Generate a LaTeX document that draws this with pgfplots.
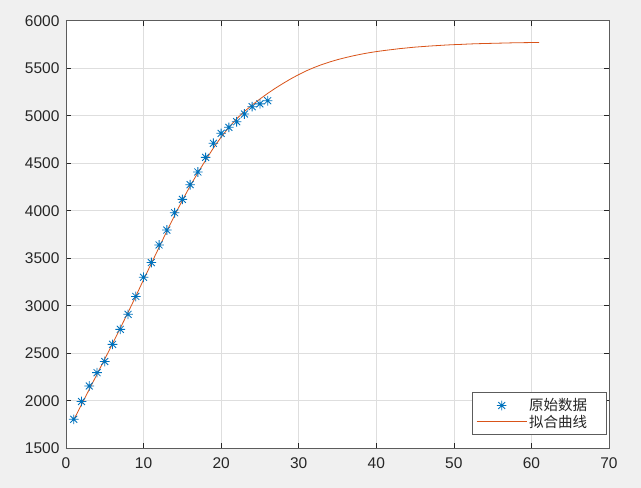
\documentclass[border=0pt]{standalone}
\usepackage{pgfplots}
\pgfplotsset{compat=1.18}
\usepackage{fontspec}
\setmainfont{Liberation Sans}
\newfontfamily\cjk{Noto Sans CJK SC}
\definecolor{mblue}{rgb}{0,0.447,0.741}
\definecolor{morange}{rgb}{0.85,0.325,0.098}
\definecolor{figbg}{RGB}{240,240,240}
\definecolor{axcol}{RGB}{38,38,38}
\pgfdeclareplotmark{mstar}{%
  \pgfpathmoveto{\pgfqpoint{-\pgfplotmarksize}{0pt}}\pgfpathlineto{\pgfqpoint{\pgfplotmarksize}{0pt}}%
  \pgfpathmoveto{\pgfqpoint{0pt}{-\pgfplotmarksize}}\pgfpathlineto{\pgfqpoint{0pt}{\pgfplotmarksize}}%
  \pgfpathmoveto{\pgfqpoint{-0.72\pgfplotmarksize}{-0.72\pgfplotmarksize}}\pgfpathlineto{\pgfqpoint{0.72\pgfplotmarksize}{0.72\pgfplotmarksize}}%
  \pgfpathmoveto{\pgfqpoint{-0.72\pgfplotmarksize}{0.72\pgfplotmarksize}}\pgfpathlineto{\pgfqpoint{0.72\pgfplotmarksize}{-0.72\pgfplotmarksize}}%
  \pgfusepathqstroke}
\pgfplotsset{
  marklegend/.style={legend image code/.code={\draw[mark repeat=2,mark phase=2,##1] plot coordinates {(0pt,0pt) (25pt,0pt) (50pt,0pt)};}},
  linelegend/.style={legend image code/.code={\draw[##1] (0pt,0pt) -- (50pt,0pt);}},
}
\begin{document}
\begin{tikzpicture}
\fill[figbg] (-66pt,-39.7pt) rectangle (575pt,448.3pt);
\begin{axis}[
  at={(0,0)}, anchor=south west,
  scale only axis, width=543pt, height=427.6pt,
  xmin=0, xmax=70, ymin=1500, ymax=6000,
  xtick={0,10,...,70}, ytick={1500,2000,...,6000},
  /pgf/number format/1000 sep={},
  /pgf/number format/assume math mode=true,
  axis background/.style={fill=white},
  axis line style={draw=axcol!75, line width=0.9pt},
  tick style={draw=axcol, line width=0.6pt},
  major tick length=5pt,
  tick align=inside,
  grid=major,
  major grid style={draw=black!13, line width=0.6pt},
  tick label style={font=\fontsize{15.5}{18}\selectfont, text=axcol},
  xticklabel style={yshift=-6pt},
  yticklabel style={xshift=-3pt},
  legend style={font=\cjk\fontsize{14.5}{17}\selectfont, draw=axcol!75, line width=0.8pt,
    fill=white, at={(1,0)}, anchor=south east, xshift=-2pt, yshift=13.3pt,
    inner xsep=3.5pt, inner ysep=4pt, row sep=-1.5pt, text=axcol},
  legend cell align=left,
]
\addplot[only marks, mark=mstar, mark size=4.8pt, mblue, line width=0.85pt, marklegend]
coordinates {
(1,1805)(2,1992)(3,2156)(4,2296)(5,2413)(6,2594)(7,2752)(8,2910)(9,3098)(10,3300)
(11,3455)(12,3640)(13,3797)(14,3979)(15,4120)(16,4274)(17,4408)(18,4562)(19,4710)(20,4815)
(21,4878)(22,4937)(23,5018)(24,5095)(25,5125)(26,5158)};
\addlegendentry{原始数据\rule{14pt}{0pt}}
\addplot[morange, line width=0.8pt, no marks, linelegend]
coordinates {
(1,1800)(2,1960)(3,2120)(4,2280)(5,2440)(6,2600)(7,2765)(8,2930)(9,3100)(10,3275)
(11,3445)(12,3615)(13,3785)(14,3950)(15,4110)(16,4260)(17,4400)(18,4532)(19,4660)(20,4775)
(21,4878)(22,4968)(23,5045)(24,5113)(25,5176)(26,5235)(27,5290)(28,5341)(29,5389)(30,5433)
(31,5473)(32,5508)(33,5539)(34,5566)(35,5590)(36,5611)(37,5630)(38,5647)(39,5662)(40,5675)
(41,5686)(42,5696)(43,5706)(44,5714)(45,5722)(46,5728)(47,5734)(48,5739)(49,5744)(50,5748)
(51,5751)(52,5755)(53,5758)(54,5760)(55,5762)(56,5764)(57,5766)(58,5768)(59,5769)(60,5770)(61,5771)};
\addlegendentry{拟合曲线\rule{14pt}{0pt}}
\end{axis}
\end{tikzpicture}
\end{document}
